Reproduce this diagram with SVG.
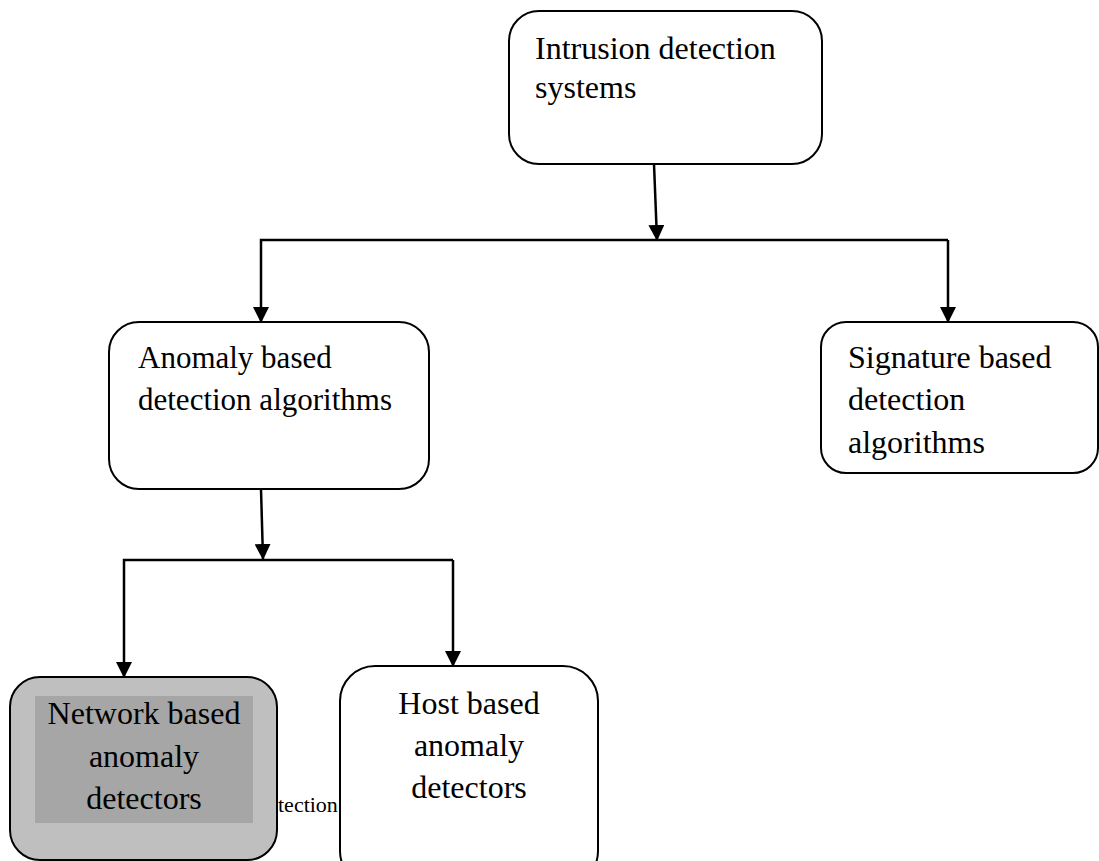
<svg xmlns="http://www.w3.org/2000/svg" width="1099" height="861" viewBox="0 0 1099 861">
<style>
.box{fill:#ffffff;stroke:#000000;stroke-width:2}
.t{font-family:"Liberation Serif","Times New Roman",serif;font-size:32px;fill:#000000}
.c{text-anchor:middle}
.line{fill:none;stroke:#000000;stroke-width:2.5}
</style>
<defs>
<marker id="arr" markerUnits="userSpaceOnUse" markerWidth="16" markerHeight="16" viewBox="0 0 16 16" refX="15" refY="8" orient="auto">
<path d="M0,0 L16,8 L0,16 Z" fill="#000000"/>
</marker>
</defs>
<rect width="1099" height="861" fill="#ffffff"/>
<g id="connectors">
<path class="line" d="M654,164 L657,240" marker-end="url(#arr)"/>
<path class="line" d="M948,240 L261,240 L261,322" marker-end="url(#arr)"/>
<path class="line" d="M948,240 L948,322" marker-end="url(#arr)"/>
<path class="line" d="M261,489 L263,559" marker-end="url(#arr)"/>
<path class="line" d="M453,560 L124,560 L124,677" marker-end="url(#arr)"/>
<path class="line" d="M453,560 L453,666" marker-end="url(#arr)"/>
</g>
<text class="t" x="278" y="812" style="font-size:22px">tection</text>
<g id="ids">
<rect class="box" x="509" y="11" width="313" height="153" rx="30"/>
<text class="t" x="535" y="59">Intrusion detection</text>
<text class="t" x="535" y="98">systems</text>
</g>
<g id="anomaly">
<rect class="box" x="109" y="322" width="320" height="167" rx="30"/>
<text class="t" x="138" y="368" style="font-size:31px">Anomaly based</text>
<text class="t" x="138" y="410" style="font-size:31px">detection algorithms</text>
</g>
<g id="signature">
<rect class="box" x="821" y="322" width="277" height="151" rx="25"/>
<text class="t" x="848" y="368">Signature based</text>
<text class="t" x="848" y="410">detection</text>
<text class="t" x="848" y="453">algorithms</text>
</g>
<g id="network">
<rect x="10" y="677" width="267" height="183" rx="30" fill="#bfbfbf" stroke="#000000" stroke-width="2"/>
<rect x="35" y="696" width="218" height="127" fill="#a6a6a6"/>
<text class="t c" x="144" y="724">Network based</text>
<text class="t c" x="144" y="767">anomaly</text>
<text class="t c" x="144" y="809">detectors</text>
</g>
<g id="host">
<rect class="box" x="340" y="666" width="258" height="220" rx="35"/>
<text class="t c" x="469" y="714">Host based</text>
<text class="t c" x="469" y="756">anomaly</text>
<text class="t c" x="469" y="798">detectors</text>
</g>
</svg>
